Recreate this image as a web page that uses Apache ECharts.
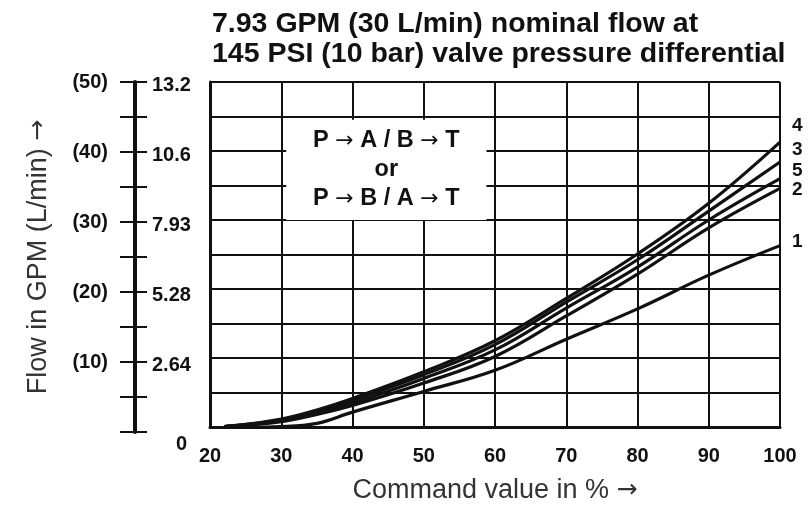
<!DOCTYPE html>
<html>
<head>
<meta charset="utf-8">
<script src="https://cdn.jsdelivr.net/npm/echarts@6/dist/echarts.min.js"></script>
<style>
  html, body { margin: 0; padding: 0; background: #fff; }
  #chart { width: 808px; height: 509px; }
</style>
</head>
<body>
<div id="chart"></div>
<script>
// command value (%) where the curves were read
const commandPct = [22, 25, 30, 35, 40, 50, 60, 70, 80, 90, 100];

// flow in GPM
const flowCurve1 = [0, 0, 0.02, 0.14, 0.57, 1.36, 2.17, 3.36, 4.52, 5.81, 6.94];
const flowCurve2 = [0.02, 0.07, 0.2, 0.48, 0.82, 1.68, 2.7, 4.25, 5.85, 7.62, 9.13];
const flowCurve3 = [0.02, 0.09, 0.27, 0.6, 1.02, 2.0, 3.15, 4.78, 6.4, 8.26, 10.14];
const flowCurve4 = [0.02, 0.1, 0.3, 0.65, 1.09, 2.11, 3.3, 4.92, 6.62, 8.56, 10.9];
const flowCurve5 = [0.02, 0.08, 0.24, 0.55, 0.92, 1.86, 2.95, 4.55, 6.12, 7.92, 9.5];

// left scale tick labels, one per 5 L/min step
const lpmTickLabels = ['', '', '(10)', '', '(20)', '', '(30)', '', '(40)', '', '(50)'];
const gpmTickLabels = ['0', '', '2.64', '', '5.28', '', '7.93', '', '10.6', '', '13.2'];

const ink = '#111';
const font = 'Liberation Sans, Arial, sans-serif';
const arrowFont = 'DejaVu Sans, sans-serif';

const toPairs = (ys) => commandPct.map((x, i) => [x, ys[i]]);

const chart = echarts.init(document.getElementById('chart'));

const curveSeries = (name, ys, labelOffset) => ({
  name: name,
  type: 'line',
  xAxisIndex: 0,
  yAxisIndex: 0,
  data: toPairs(ys),
  smooth: 0.4,
  showSymbol: false,
  symbol: 'none',
  lineStyle: { color: ink, width: 3.2 },
  z: 5,
  endLabel: {
    show: true,
    formatter: '{a}',
    color: ink,
    fontSize: 19,
    fontWeight: 'bold',
    fontFamily: font,
    distance: 4,
    offset: labelOffset
  }
});

const series = [
  curveSeries('1', flowCurve1, [8, -4]),
  curveSeries('2', flowCurve2, [8, 1]),
  curveSeries('3', flowCurve3, [8, -12]),
  curveSeries('4', flowCurve4, [8, -16]),
  curveSeries('5', flowCurve5, [8, -8])
];

// white box with the flow direction note
const boxText = { fontSize: 23.5, color: ink, lineHeight: 29, fontFamily: font };
series[0].markArea = {
  silent: true,
  itemStyle: { color: '#fff', opacity: 1, borderWidth: 0 },
  label: {
    show: true,
    position: 'inside',
    fontSize: 23.5,
    fontWeight: 'bold',
    fontFamily: font,
    color: ink,
    lineHeight: 29,
    formatter: '{b|P} {a|\u2192} {b|A / B} {a|\u2192} {b|T}\n{b|or}\n{b|P} {a|\u2192} {b|B / A} {a|\u2192} {b|T}',
    rich: {
      b: Object.assign({ fontWeight: 'bold' }, boxText),
      a: Object.assign({}, boxText, { fontWeight: 'normal', fontFamily: arrowFont, fontSize: 22 })
    }
  },
  data: [[{ xAxis: 30.7, yAxis: 7.92 }, { xAxis: 58.8, yAxis: 11.76 }]]
};

const nameStyle = {
  fontSize: 27,
  color: '#333',
  rich: {
    t: { fontSize: 27, color: '#333', fontFamily: font },
    a: { fontSize: 25, color: '#333', fontFamily: arrowFont }
  }
};

const option = {
  backgroundColor: '#fff',
  animation: false,
  textStyle: { fontFamily: font },
  title: {
    text: '7.93 GPM (30 L/min) nominal flow at\n145 PSI (10 bar) valve pressure differential',
    left: 207,
    top: 4,
    textStyle: { fontSize: 28.5, fontWeight: 'bold', color: ink, lineHeight: 30, fontFamily: font }
  },
  grid: [
    { left: 210, right: 28, top: 82, bottom: 77 },
    { left: 135, width: 1, top: 82, bottom: 77 }
  ],
  xAxis: [
    {
      gridIndex: 0,
      type: 'value',
      min: 20,
      max: 100,
      interval: 10,
      axisLine: { show: true, lineStyle: { color: ink, width: 3 } },
      axisTick: { show: false },
      splitLine: { show: true, lineStyle: { color: ink, width: 2 } },
      axisLabel: { fontSize: 20, fontWeight: 'bold', color: ink, margin: 19 },
      name: '{t|Command value in %} {a|\u2192}',
      nameLocation: 'middle',
      nameGap: 50,
      nameTextStyle: nameStyle
    },
    { gridIndex: 1, type: 'value', min: 0, max: 1, show: false }
  ],
  yAxis: [
    {
      gridIndex: 0,
      type: 'value',
      min: 0,
      max: 13.2,
      interval: 1.32,
      axisLine: { show: true, onZero: false, lineStyle: { color: ink, width: 3 } },
      axisTick: { show: false },
      axisLabel: { show: false },
      splitLine: { show: true, lineStyle: { color: ink, width: 2 } }
    },
    {
      gridIndex: 1,
      type: 'value',
      position: 'left',
      min: 0,
      max: 50,
      interval: 5,
      axisLine: { show: true, onZero: false, lineStyle: { color: ink, width: 4 } },
      axisTick: { show: true, length: 15, lineStyle: { color: ink, width: 2 } },
      axisLabel: {
        fontSize: 20,
        fontWeight: 'bold',
        color: ink,
        margin: 27,
        padding: [8, 0, 0, 0],
        formatter: (v) => lpmTickLabels[Math.round(v / 5)]
      },
      splitLine: { show: false },
      name: '{t|Flow in GPM (L/min)} {a|\u2192}',
      nameLocation: 'middle',
      nameRotate: 90,
      nameGap: 83,
      nameTextStyle: nameStyle
    },
    {
      gridIndex: 1,
      type: 'value',
      position: 'left',
      min: 0,
      max: 50,
      interval: 5,
      axisLine: { show: false },
      axisTick: { show: true, inside: true, length: 12, lineStyle: { color: ink, width: 2 } },
      axisLabel: {
        inside: true,
        fontSize: 20,
        fontWeight: 'bold',
        color: ink,
        margin: 17,
        padding: [6, 0, 0, 0],
        formatter: (v) => {
          const i = Math.round(v / 5);
          return i === 0 ? '{z|' + gpmTickLabels[0] + '}' : gpmTickLabels[i];
        },
        rich: {
          z: { fontSize: 20, fontWeight: 'bold', color: ink, padding: [18, 0, 0, 24] }
        }
      },
      splitLine: { show: false }
    }
  ],
  series: series
};

chart.setOption(option);
</script>
</body>
</html>
